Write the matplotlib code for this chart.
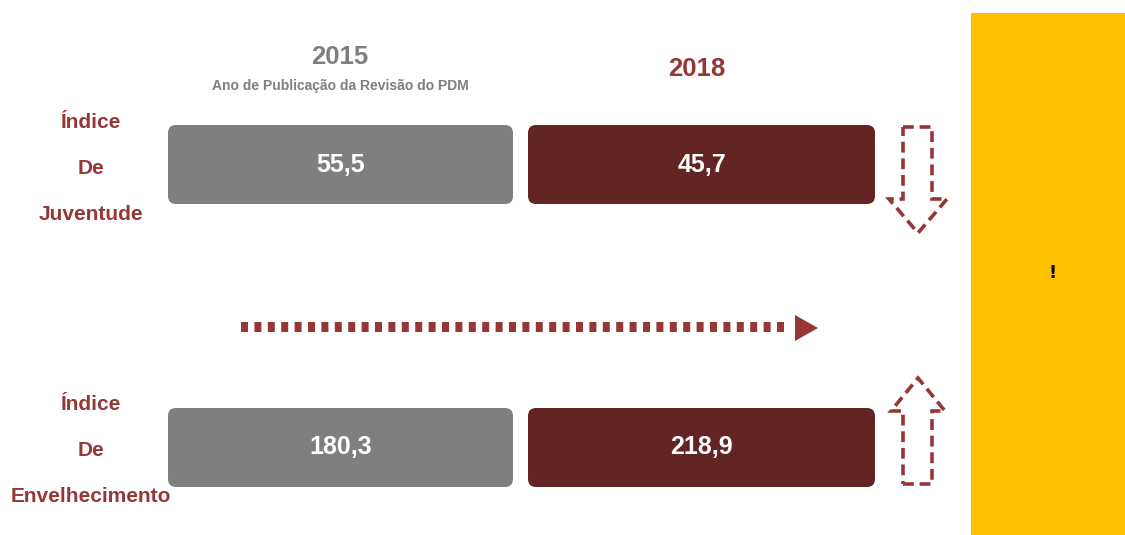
import matplotlib.pyplot as plt
from matplotlib.patches import FancyBboxPatch, Rectangle, Polygon

# ------------------------------------------------------------
# DATA
# ------------------------------------------------------------
years = ["2015", "2018"]
year_note = "Ano de Publicação da Revisão do PDM"
indices = [["Índice", "De", "Juventude"], ["Índice", "De", "Envelhecimento"]]
values_2015 = [55.5, 180.3]
values_2018 = [45.7, 218.9]
trend = ["down", "up"]

GRAY = "#7f7f7f"
DARK = "#632523"
RED = "#953735"
YELLOW = "#ffc000"
FONT = ["Liberation Sans Narrow", "Liberation Sans", "DejaVu Sans"]

plt.rcParams["font.family"] = FONT

fig = plt.figure(figsize=(11.25, 5.35), dpi=100)
ax = fig.add_axes([0, 0, 1, 1])
ax.set_xlim(0, 1125)
ax.set_ylim(535, 0)
ax.axis("off")


def fmt(v):
    return f"{v:.1f}".replace(".", ",")


# ------------------------------------------------------------
# HEADERS
# ------------------------------------------------------------
ax.text(340, 57, years[0], color=GRAY, fontsize=18.5, fontweight="bold", ha="center", va="center")
ax.text(340, 86, year_note, color=GRAY, fontsize=10, fontweight="bold", ha="center", va="center")
ax.text(697, 69, years[1], color=RED, fontsize=18.5, fontweight="bold", ha="center", va="center")

# ------------------------------------------------------------
# ROWS
# ------------------------------------------------------------
row_top = [125, 408]
box_h = 79
cols = [(168, 513, GRAY), (528, 875, DARK)]

for r, (label, v15, v18, tr) in enumerate(zip(indices, values_2015, values_2018, trend)):
    y0 = row_top[r]
    for (x0, x1, col), v in zip(cols, [v15, v18]):
        ax.add_patch(FancyBboxPatch((x0 + 8, y0 + 8), x1 - x0 - 16, box_h - 16,
                                    boxstyle="round,pad=8", fc=col, ec="none"))
        ax.text((x0 + x1) / 2, y0 + box_h / 2, fmt(v), color="white", fontsize=18,
                fontweight="bold", ha="center", va="center")

    # left label, three lines
    for k, word in enumerate(label):
        ax.text(91, y0 - 3 + k * 46, word, color=RED, fontsize=15, fontweight="bold",
                ha="center", va="center")

    # dashed block arrow
    if tr == "down":
        pts = [(903, 127), (932, 127), (932, 199), (947, 199), (918, 233),
               (889, 199), (903, 199)]
    else:
        pts = [(903, 484), (932, 484), (932, 411), (945, 411), (918, 378),
               (891, 411), (903, 411)]
    ax.add_patch(Polygon(pts, closed=True, fill=False, ec=RED, lw=2.6,
                         linestyle=(0, (3, 1.6)), joinstyle="miter"))

# ------------------------------------------------------------
# DOTTED ARROW
# ------------------------------------------------------------
ax.plot([241, 789], [327, 327], color=RED, lw=7.2, linestyle=(0, (0.7, 0.64)),
        solid_capstyle="butt", dash_capstyle="butt")
ax.add_patch(Polygon([(795, 315), (818, 328), (795, 341)], closed=True, fc=RED, ec="none"))

# ------------------------------------------------------------
# YELLOW PANEL
# ------------------------------------------------------------
ax.add_patch(Rectangle((971, 13), 160, 530, fc=YELLOW, ec="none"))
ax.text(1053, 273, "!", color="black", fontsize=13, fontweight="bold",
        family="DejaVu Sans", ha="center", va="center")

fig.savefig("out.png", dpi=100)
